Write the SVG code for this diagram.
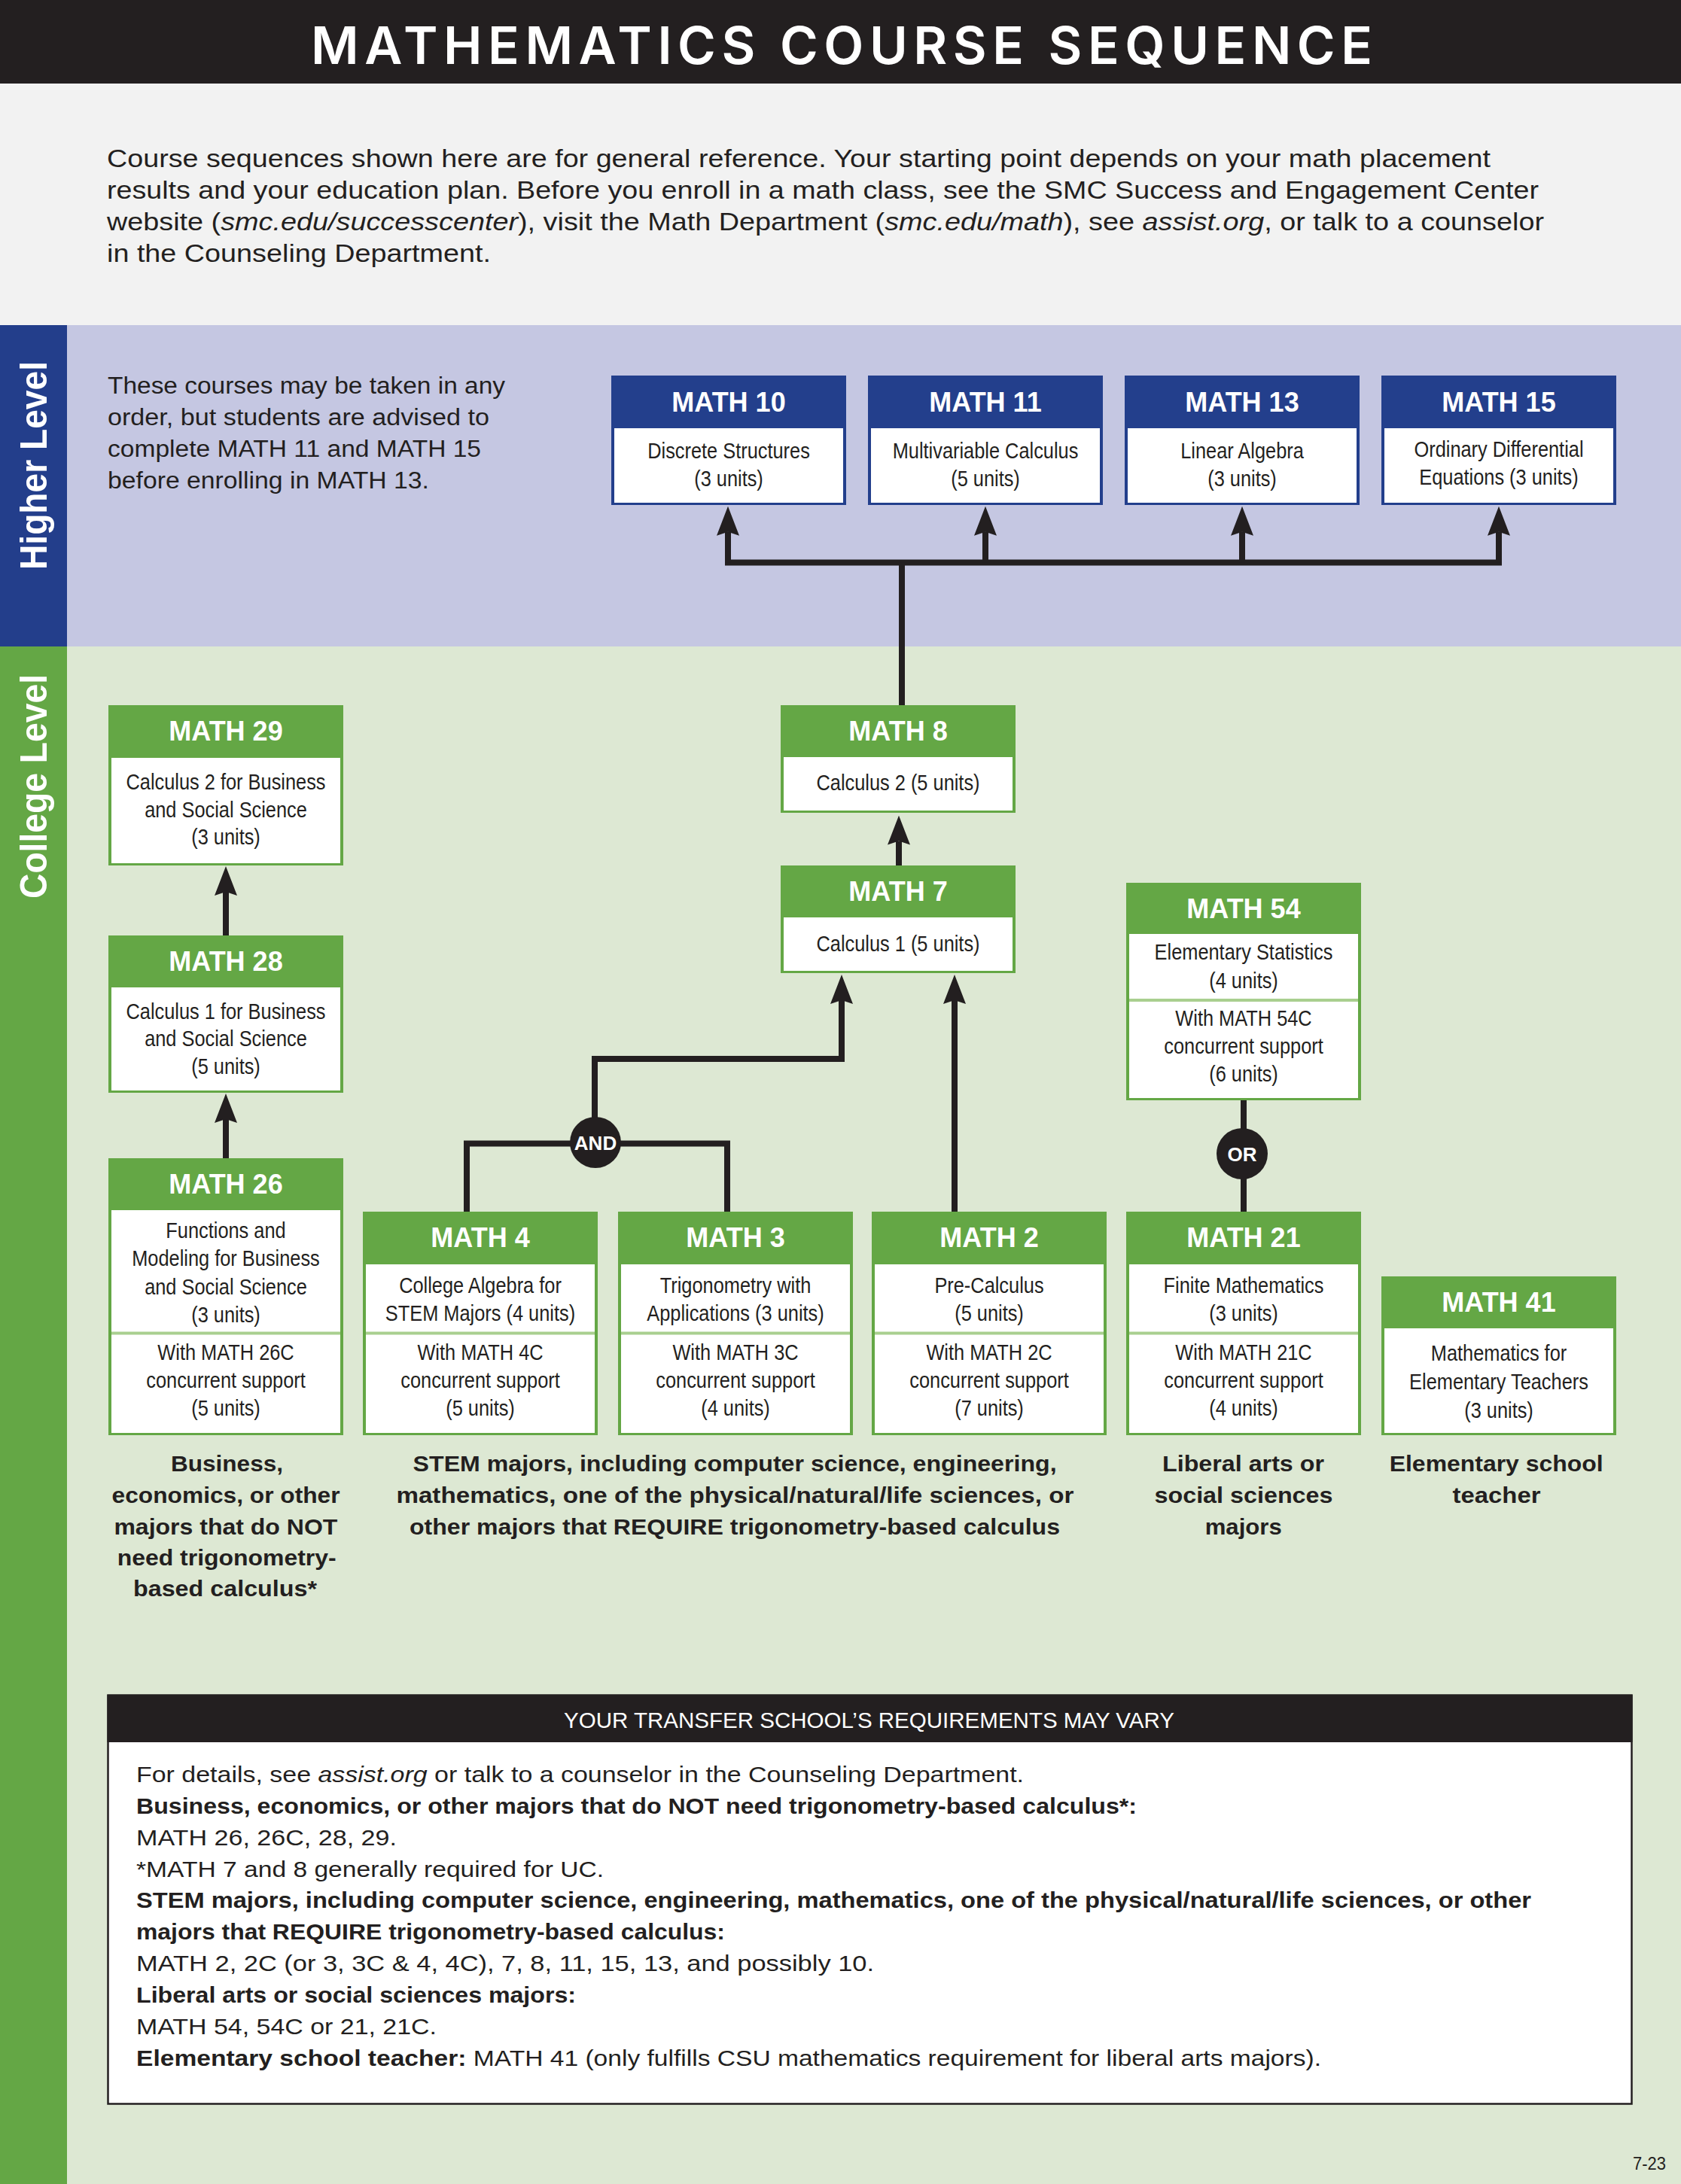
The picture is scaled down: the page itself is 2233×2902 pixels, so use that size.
<svg xmlns="http://www.w3.org/2000/svg" width="2233" height="2902" viewBox="0 0 2233 2902">
<style>
text{font-family:'Liberation Sans',Arial,sans-serif;fill:#231f20}
.hd{font-weight:bold;font-size:36px;fill:#fff;text-anchor:middle}
.bd{font-size:29px;text-anchor:middle}
.lbl{font-weight:bold;font-size:30px}
.p{font-size:34px}
.tb{font-size:30px}
.b{font-weight:bold}
.i{font-style:italic}
.g{fill:#64a745}
.bl{fill:#233f8c}
.w{fill:#fff}
.dv{fill:#a9cf8f}
.conn{fill:none;stroke:#231f20;stroke-width:8;stroke-linejoin:miter}
.side{font-weight:bold;font-size:50px;fill:#fff;text-anchor:middle}
.op{font-weight:bold;font-size:26px;fill:#fff;text-anchor:middle}
</style>
<defs>
<marker id="ah" markerUnits="userSpaceOnUse" viewBox="0 0 39 30" refX="5" refY="15" markerWidth="39" markerHeight="30" orient="auto">
<path d="M0,0 L39,15 L0,30 L5,15 Z" fill="#231f20"/>
</marker>
</defs>

<!-- backgrounds -->
<rect x="0" y="0" width="2233" height="111" fill="#231f20"/>
<rect x="0" y="111" width="2233" height="321" fill="#f2f2f2"/>
<rect x="0" y="432" width="2233" height="427" fill="#c5c7e2"/>
<rect x="0" y="432" width="89" height="427" fill="#233e8b"/>
<rect x="0" y="859" width="2233" height="2043" fill="#dde8d3"/>
<rect x="0" y="859" width="89" height="2043" fill="#64a745"/>

<text x="413" y="85" style="font-family:Inter,'Liberation Sans',sans-serif;font-weight:600;font-size:69px;fill:#fff" textLength="1410" lengthAdjust="spacing">MATHEMATICS COURSE SEQUENCE</text>

<g id="intro">
<text class="p" x="142" y="222" textLength="1838" lengthAdjust="spacingAndGlyphs">Course sequences shown here are for general reference. Your starting point depends on your math placement</text>
<text class="p" x="142" y="264" textLength="1902" lengthAdjust="spacingAndGlyphs">results and your education plan. Before you enroll in a math class, see the SMC Success and Engagement Center</text>
<text class="p" x="142" y="306" textLength="1909" lengthAdjust="spacingAndGlyphs">website (<tspan class="i">smc.edu/successcenter</tspan>), visit the Math Department (<tspan class="i">smc.edu/math</tspan>), see <tspan class="i">assist.org</tspan>, or talk to a counselor</text>
<text class="p" x="142" y="348" textLength="510" lengthAdjust="spacingAndGlyphs">in the Counseling Department.</text>
</g>

<text class="side" transform="translate(62 618.5) rotate(-90)" x="0" y="0" textLength="277" lengthAdjust="spacingAndGlyphs">Higher Level</text>
<text class="side" transform="translate(62 1045) rotate(-90)" x="0" y="0" textLength="298" lengthAdjust="spacingAndGlyphs">College Level</text>

<g id="higher-note">
<text style="font-size:31px" x="143" y="523" textLength="528" lengthAdjust="spacingAndGlyphs">These courses may be taken in any</text>
<text style="font-size:31px" x="143" y="565" textLength="507" lengthAdjust="spacingAndGlyphs">order, but students are advised to</text>
<text style="font-size:31px" x="143" y="607" textLength="496" lengthAdjust="spacingAndGlyphs">complete MATH 11 and MATH 15</text>
<text style="font-size:31px" x="143" y="649" textLength="427" lengthAdjust="spacingAndGlyphs">before enrolling in MATH 13.</text>
</g>

<!-- connectors -->
<g id="connectors">
<path class="conn" d="M967,747.5 H1991" stroke-linecap="square"/>
<path class="conn" d="M967,747.5 V706.7" marker-end="url(#ah)"/>
<path class="conn" d="M1309,747.5 V706.7" marker-end="url(#ah)"/>
<path class="conn" d="M1650,747.5 V706.7" marker-end="url(#ah)"/>
<path class="conn" d="M1991,747.5 V706.7" marker-end="url(#ah)"/>
<path class="conn" d="M1198,937 V747.5"/>
<path class="conn" d="M300,1243 V1185" marker-end="url(#ah)"/>
<path class="conn" d="M300,1539 V1487" marker-end="url(#ah)"/>
<path class="conn" d="M1194,1150 V1117.6" marker-end="url(#ah)"/>
<path class="conn" d="M790,1500 V1407 H1118 V1329" marker-end="url(#ah)"/>
<path class="conn" d="M620,1610 V1519.5 H966 V1610"/>
<path class="conn" d="M1268,1610 V1329" marker-end="url(#ah)"/>
<path class="conn" d="M1652,1462 V1611"/>
<circle cx="791" cy="1518" r="34" fill="#231f20"/>
<text class="op" x="791" y="1527.5">AND</text>
<circle cx="1650" cy="1533" r="34" fill="#231f20"/>
<text class="op" x="1650" y="1542.5">OR</text>
</g>

<!-- higher level nodes -->
<g id="math10">
<rect class="bl" x="812" y="499" width="312" height="172"/>
<rect class="w" x="816" y="569" width="304" height="99"/>
<text class="hd" x="968" y="547">MATH 10</text>
<g transform="translate(968 0) scale(0.875 1)"><text class="bd" x="0" y="609">Discrete Structures</text><text class="bd" x="0" y="646">(3 units)</text></g>
</g>
<g id="math11">
<rect class="bl" x="1153" y="499" width="312" height="172"/>
<rect class="w" x="1157" y="569" width="304" height="99"/>
<text class="hd" x="1309" y="547">MATH 11</text>
<g transform="translate(1309 0) scale(0.875 1)"><text class="bd" x="0" y="609">Multivariable Calculus</text><text class="bd" x="0" y="646">(5 units)</text></g>
</g>
<g id="math13">
<rect class="bl" x="1494" y="499" width="312" height="172"/>
<rect class="w" x="1498" y="569" width="304" height="99"/>
<text class="hd" x="1650" y="547">MATH 13</text>
<g transform="translate(1650 0) scale(0.875 1)"><text class="bd" x="0" y="609">Linear Algebra</text><text class="bd" x="0" y="646">(3 units)</text></g>
</g>
<g id="math15">
<rect class="bl" x="1835" y="499" width="312" height="172"/>
<rect class="w" x="1839" y="569" width="304" height="99"/>
<text class="hd" x="1991" y="547">MATH 15</text>
<g transform="translate(1991 0) scale(0.875 1)"><text class="bd" x="0" y="607">Ordinary Differential</text><text class="bd" x="0" y="644">Equations (3 units)</text></g>
</g>

<!-- college level nodes -->
<g id="math29">
<rect class="g" x="144" y="937" width="312" height="213"/>
<rect class="w" x="148" y="1007" width="304" height="140"/>
<text class="hd" x="300" y="984">MATH 29</text>
<g transform="translate(300 0) scale(0.875 1)"><text class="bd" x="0" y="1049">Calculus 2 for Business</text><text class="bd" x="0" y="1086">and Social Science</text><text class="bd" x="0" y="1122">(3 units)</text></g>
</g>
<g id="math28">
<rect class="g" x="144" y="1243" width="312" height="209"/>
<rect class="w" x="148" y="1312" width="304" height="137"/>
<text class="hd" x="300" y="1290">MATH 28</text>
<g transform="translate(300 0) scale(0.875 1)"><text class="bd" x="0" y="1354">Calculus 1 for Business</text><text class="bd" x="0" y="1390">and Social Science</text><text class="bd" x="0" y="1427">(5 units)</text></g>
</g>
<g id="math8">
<rect class="g" x="1037" y="937" width="312" height="143"/>
<rect class="w" x="1041" y="1006" width="304" height="71"/>
<text class="hd" x="1193" y="984">MATH 8</text>
<g transform="translate(1193 0) scale(0.875 1)"><text class="bd" x="0" y="1050">Calculus 2 (5 units)</text></g>
</g>
<g id="math7">
<rect class="g" x="1037" y="1150" width="312" height="143"/>
<rect class="w" x="1041" y="1219" width="304" height="71"/>
<text class="hd" x="1193" y="1197">MATH 7</text>
<g transform="translate(1193 0) scale(0.875 1)"><text class="bd" x="0" y="1264">Calculus 1 (5 units)</text></g>
</g>
<g id="math54">
<rect class="g" x="1496" y="1173" width="312" height="289"/>
<rect class="w" x="1500" y="1241" width="304" height="218"/>
<rect class="dv" x="1500" y="1327" width="304" height="4"/>
<text class="hd" x="1652" y="1220">MATH 54</text>
<g transform="translate(1652 0) scale(0.875 1)"><text class="bd" x="0" y="1275">Elementary Statistics</text><text class="bd" x="0" y="1313">(4 units)</text><text class="bd" x="0" y="1363">With MATH 54C</text><text class="bd" x="0" y="1400">concurrent support</text><text class="bd" x="0" y="1437">(6 units)</text></g>
</g>
<g id="math26">
<rect class="g" x="144" y="1539" width="312" height="368"/>
<rect class="w" x="148" y="1608" width="304" height="296"/>
<rect class="dv" x="148" y="1769.5" width="304" height="4"/>
<text class="hd" x="300" y="1586">MATH 26</text>
<g transform="translate(300 0) scale(0.875 1)"><text class="bd" x="0" y="1645">Functions and</text><text class="bd" x="0" y="1682">Modeling for Business</text><text class="bd" x="0" y="1720">and Social Science</text><text class="bd" x="0" y="1757">(3 units)</text><text class="bd" x="0" y="1807">With MATH 26C</text><text class="bd" x="0" y="1844">concurrent support</text><text class="bd" x="0" y="1881">(5 units)</text></g>
</g>
<g id="math4">
<rect class="g" x="482" y="1610" width="312" height="297"/>
<rect class="w" x="486" y="1680" width="304" height="224"/>
<rect class="dv" x="486" y="1769.5" width="304" height="4"/>
<text class="hd" x="638" y="1657">MATH 4</text>
<g transform="translate(638 0) scale(0.875 1)"><text class="bd" x="0" y="1718">College Algebra for</text><text class="bd" x="0" y="1755">STEM Majors (4 units)</text><text class="bd" x="0" y="1807">With MATH 4C</text><text class="bd" x="0" y="1844">concurrent support</text><text class="bd" x="0" y="1881">(5 units)</text></g>
</g>
<g id="math3">
<rect class="g" x="821" y="1610" width="312" height="297"/>
<rect class="w" x="825" y="1680" width="304" height="224"/>
<rect class="dv" x="825" y="1769.5" width="304" height="4"/>
<text class="hd" x="977" y="1657">MATH 3</text>
<g transform="translate(977 0) scale(0.875 1)"><text class="bd" x="0" y="1718">Trigonometry with</text><text class="bd" x="0" y="1755">Applications (3 units)</text><text class="bd" x="0" y="1807">With MATH 3C</text><text class="bd" x="0" y="1844">concurrent support</text><text class="bd" x="0" y="1881">(4 units)</text></g>
</g>
<g id="math2">
<rect class="g" x="1158" y="1610" width="312" height="297"/>
<rect class="w" x="1162" y="1680" width="304" height="224"/>
<rect class="dv" x="1162" y="1769.5" width="304" height="4"/>
<text class="hd" x="1314" y="1657">MATH 2</text>
<g transform="translate(1314 0) scale(0.875 1)"><text class="bd" x="0" y="1718">Pre-Calculus</text><text class="bd" x="0" y="1755">(5 units)</text><text class="bd" x="0" y="1807">With MATH 2C</text><text class="bd" x="0" y="1844">concurrent support</text><text class="bd" x="0" y="1881">(7 units)</text></g>
</g>
<g id="math21">
<rect class="g" x="1496" y="1610" width="312" height="297"/>
<rect class="w" x="1500" y="1680" width="304" height="224"/>
<rect class="dv" x="1500" y="1769.5" width="304" height="4"/>
<text class="hd" x="1652" y="1657">MATH 21</text>
<g transform="translate(1652 0) scale(0.875 1)"><text class="bd" x="0" y="1718">Finite Mathematics</text><text class="bd" x="0" y="1755">(3 units)</text><text class="bd" x="0" y="1807">With MATH 21C</text><text class="bd" x="0" y="1844">concurrent support</text><text class="bd" x="0" y="1881">(4 units)</text></g>
</g>
<g id="math41">
<rect class="g" x="1835" y="1696" width="312" height="211"/>
<rect class="w" x="1839" y="1765" width="304" height="139"/>
<text class="hd" x="1991" y="1743">MATH 41</text>
<g transform="translate(1991 0) scale(0.875 1)"><text class="bd" x="0" y="1808">Mathematics for</text><text class="bd" x="0" y="1846">Elementary Teachers</text><text class="bd" x="0" y="1884">(3 units)</text></g>
</g>

<!-- group labels -->
<g id="labels">
<text class="lbl" x="227" y="1955" textLength="149" lengthAdjust="spacingAndGlyphs">Business,</text>
<text class="lbl" x="148.6" y="1997" textLength="303" lengthAdjust="spacingAndGlyphs">economics, or other</text>
<text class="lbl" x="151.4" y="2039" textLength="297" lengthAdjust="spacingAndGlyphs">majors that do NOT</text>
<text class="lbl" x="155.7" y="2080" textLength="291" lengthAdjust="spacingAndGlyphs">need trigonometry-</text>
<text class="lbl" x="177" y="2121" textLength="244" lengthAdjust="spacingAndGlyphs">based calculus*</text>
<text class="lbl" x="548.6" y="1955" textLength="855" lengthAdjust="spacingAndGlyphs">STEM majors, including computer science, engineering,</text>
<text class="lbl" x="526.4" y="1997" textLength="900" lengthAdjust="spacingAndGlyphs">mathematics, one of the physical/natural/life sciences, or</text>
<text class="lbl" x="544" y="2039" textLength="864" lengthAdjust="spacingAndGlyphs">other majors that REQUIRE trigonometry-based calculus</text>
<text class="lbl" x="1544" y="1955" textLength="215" lengthAdjust="spacingAndGlyphs">Liberal arts or</text>
<text class="lbl" x="1533.5" y="1997" textLength="237" lengthAdjust="spacingAndGlyphs">social sciences</text>
<text class="lbl" x="1600.7" y="2039" textLength="102" lengthAdjust="spacingAndGlyphs">majors</text>
<text class="lbl" x="1845.7" y="1955" textLength="284" lengthAdjust="spacingAndGlyphs">Elementary school</text>
<text class="lbl" x="1929.5" y="1997" textLength="117" lengthAdjust="spacingAndGlyphs">teacher</text>
</g>

<!-- transfer box -->
<g id="transfer">
<rect x="143.5" y="2252.5" width="2024" height="543" fill="#fff" stroke="#231f20" stroke-width="2.5"/>
<rect x="142.5" y="2252" width="2026" height="63" fill="#231f20"/>
<text class="tb" x="749" y="2296" style="fill:#fff" textLength="811" lengthAdjust="spacingAndGlyphs">YOUR TRANSFER SCHOOL’S REQUIREMENTS MAY VARY</text>
<text class="tb" x="181" y="2368" textLength="1179" lengthAdjust="spacingAndGlyphs">For details, see <tspan class="i">assist.org</tspan> or talk to a counselor in the Counseling Department.</text>
<text class="tb b" x="181" y="2410" textLength="1329" lengthAdjust="spacingAndGlyphs">Business, economics, or other majors that do NOT need trigonometry-based calculus*:</text>
<text class="tb" x="181" y="2452" textLength="346" lengthAdjust="spacingAndGlyphs">MATH 26, 26C, 28, 29.</text>
<text class="tb" x="181" y="2494" textLength="621" lengthAdjust="spacingAndGlyphs">*MATH 7 and 8 generally required for UC.</text>
<text class="tb b" x="181" y="2535" textLength="1853" lengthAdjust="spacingAndGlyphs">STEM majors, including computer science, engineering, mathematics, one of the physical/natural/life sciences, or other</text>
<text class="tb b" x="181" y="2577" textLength="782" lengthAdjust="spacingAndGlyphs">majors that REQUIRE trigonometry-based calculus:</text>
<text class="tb" x="181" y="2619" textLength="980" lengthAdjust="spacingAndGlyphs">MATH 2, 2C (or 3, 3C &amp; 4, 4C), 7, 8, 11, 15, 13, and possibly 10.</text>
<text class="tb b" x="181" y="2661" textLength="584" lengthAdjust="spacingAndGlyphs">Liberal arts or social sciences majors:</text>
<text class="tb" x="181" y="2703" textLength="399" lengthAdjust="spacingAndGlyphs">MATH 54, 54C or 21, 21C.</text>
<text class="tb" x="181" y="2745" textLength="1574" lengthAdjust="spacingAndGlyphs"><tspan class="b">Elementary school teacher:</tspan> MATH 41 (only fulfills CSU mathematics requirement for liberal arts majors).</text>
</g>

<text x="2169" y="2883" style="font-size:23px" textLength="44" lengthAdjust="spacingAndGlyphs">7-23</text>
</svg>
